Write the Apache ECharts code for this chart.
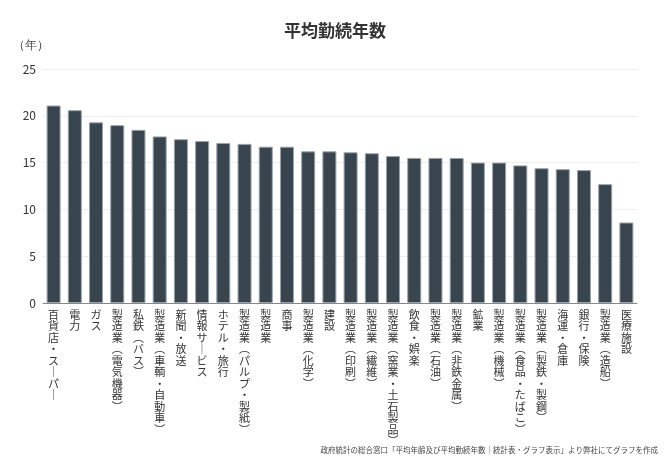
<!DOCTYPE html>
<html>
<head>
<meta charset="utf-8">
<script src="https://cdn.jsdelivr.net/npm/echarts@6/dist/echarts.min.js"></script>
<style>
  html, body { margin: 0; padding: 0; background: #fff; }
  #chart { width: 670px; height: 470px; }
</style>
</head>
<body>
<div id="chart"></div>
<script>
const categories = [
  "百貨店・スーパー", "電力", "ガス", "製造業（電気機器）", "私鉄（バス）",
  "製造業（車輌・自動車）", "新聞・放送", "情報サービス", "ホテル・旅行",
  "製造業（パルプ・製紙）", "製造業", "商事", "製造業（化学）", "建設",
  "製造業（印刷）", "製造業（繊維）", "製造業（窯業・土石製品）", "飲食・娯楽",
  "製造業（石油）", "製造業（非鉄金属）", "鉱業", "製造業（機械）",
  "製造業（食品・たばこ）", "製造業（製鉄・製鋼）", "海運・倉庫", "銀行・保険",
  "製造業（造船）", "医療施設"
];
const years = [
  21.1, 20.6, 19.3, 19.0, 18.5,
  17.8, 17.5, 17.3, 17.1,
  17.0, 16.7, 16.7, 16.2, 16.2,
  16.1, 16.0, 15.7, 15.5,
  15.5, 15.5, 15.0, 15.0,
  14.7, 14.4, 14.3, 14.2,
  12.7, 8.6
];
const yTicks = [0, 5, 10, 15, 20, 25];

const FONT = "'Noto Sans CJK JP', 'Noto Sans', sans-serif";

// 縦書き風にする（括弧と長音は縦用の字形に置き換え）
const toVertical = (s) =>
  s.split("")
    .map((c) => (c === "（" ? "︵" : c === "）" ? "︶" : c === "ー" ? "｜" : c))
    .join("\n");

const chart = echarts.init(document.getElementById("chart"));

chart.setOption({
  animation: false,
  textStyle: { fontFamily: FONT },
  title: {
    text: "平均勤続年数",
    left: "center",
    top: 17,
    textStyle: { fontSize: 17, fontWeight: "bold", color: "#333", fontFamily: FONT },
  },
  graphic: [
    {
      type: "text",
      left: 13,
      top: 40,
      style: { text: "（年）", fontSize: 12, fill: "#444", font: "12px " + FONT },
    },
    {
      type: "text",
      right: 12,
      top: 446,
      style: {
        text: "政府統計の総合窓口「平均年齢及び平均勤続年数｜統計表・グラフ表示」より弊社にてグラフを作成",
        fill: "#444",
        font: "7.5px " + FONT,
      },
    },
  ],
  grid: { left: 43, right: 33, top: 69, bottom: 167 },
  xAxis: {
    type: "category",
    data: categories,
    axisTick: { show: false },
    axisLine: { lineStyle: { color: "#888", width: 1 } },
    axisLabel: {
      interval: 0,
      margin: 6,
      color: "#333",
      fontSize: 11,
      lineHeight: 11.5,
      verticalAlign: "top",
      fontFamily: FONT,
      formatter: (v) => toVertical(v),
    },
  },
  yAxis: {
    type: "value",
    min: yTicks[0],
    max: yTicks[yTicks.length - 1],
    interval: 5,
    axisLine: { show: false },
    axisTick: { show: false },
    axisLabel: { color: "#333", fontSize: 12, margin: 7, fontFamily: FONT },
    splitLine: { lineStyle: { color: "#eeeeee", width: 1 } },
  },
  series: [
    {
      type: "bar",
      data: years,
      barWidth: 14,
      itemStyle: { color: "#38454f", borderColor: "#9aa3aa", borderWidth: 1 },
    },
  ],
});
</script>
</body>
</html>
